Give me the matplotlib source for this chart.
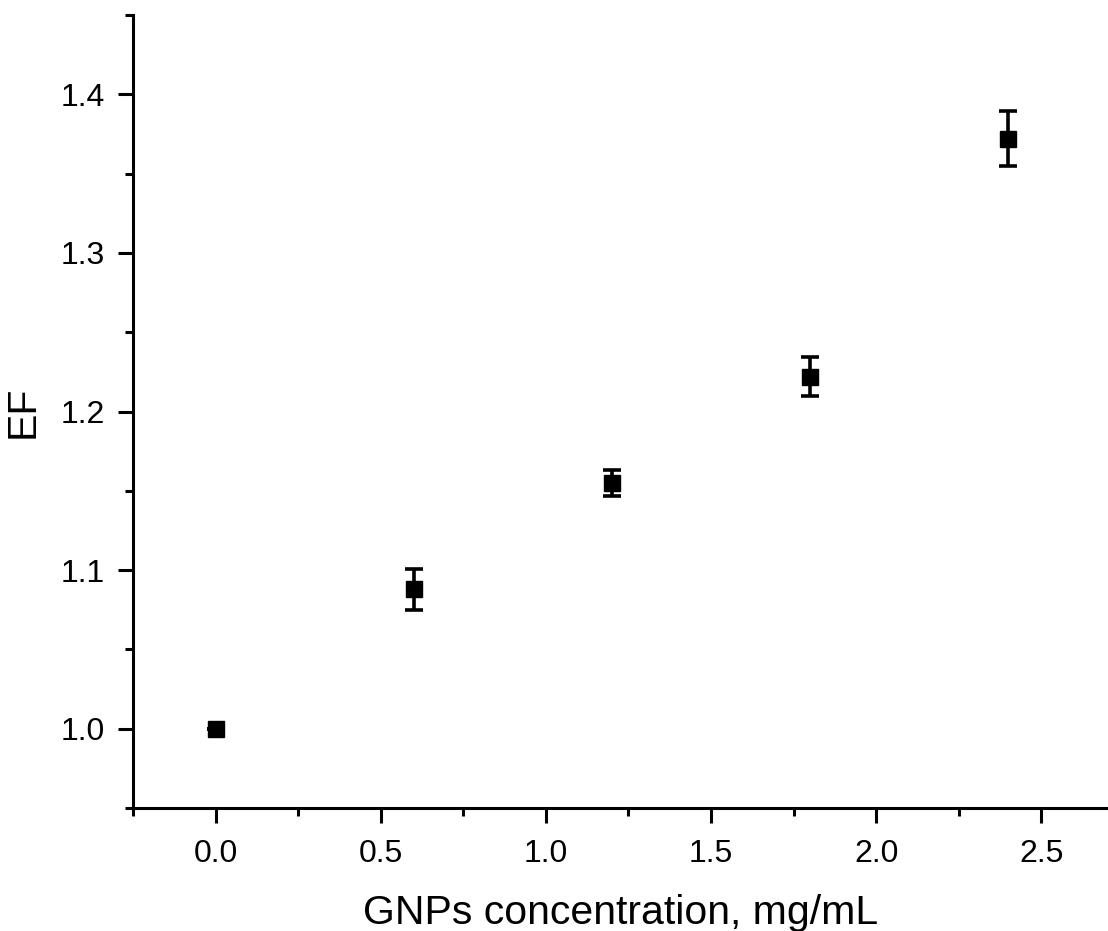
import numpy as np
import matplotlib.pyplot as plt
from matplotlib.ticker import MultipleLocator

plt.rcParams['font.family'] = ['Liberation Sans', 'DejaVu Sans']

# Datos: concentración de GNPs y factor EF
conc = [0.0, 0.6, 1.2, 1.8, 2.4]
ef = [1.000, 1.088, 1.155, 1.222, 1.372]
ef_err = [0.0, 0.013, 0.008, 0.0125, 0.0175]

fig = plt.figure(figsize=(11.08, 9.31), dpi=100)
ax = fig.add_axes([0.12, 0.132, 0.8795, 0.852])

ax.errorbar(conc, ef, yerr=ef_err, fmt='s', color='black', markersize=12,
            elinewidth=2.6, capsize=6.5, capthick=2.6, ecolor='black')

ax.set_xlim(-0.25, 2.7)
ax.set_ylim(0.95, 1.45)
ax.xaxis.set_major_locator(MultipleLocator(0.5))
ax.xaxis.set_minor_locator(MultipleLocator(0.25))
ax.yaxis.set_major_locator(MultipleLocator(0.1))
ax.yaxis.set_minor_locator(MultipleLocator(0.05))

ax.spines['top'].set_visible(False)
ax.spines['right'].set_visible(False)
for s in ['left', 'bottom']:
    ax.spines[s].set_linewidth(2.2)

ax.tick_params(which='major', direction='out', length=11, width=2.2, labelsize=23)
ax.tick_params(which='minor', direction='out', length=5.5, width=2.2)
ax.tick_params(axis='x', which='major', pad=11)
ax.tick_params(axis='y', which='major', pad=9)

ax.set_xlabel('GNPs concentration, mg/mL', fontsize=29.5, labelpad=18)
ax.set_ylabel('EF', fontsize=29.5, labelpad=14)

plt.savefig('out.png', dpi=100)
